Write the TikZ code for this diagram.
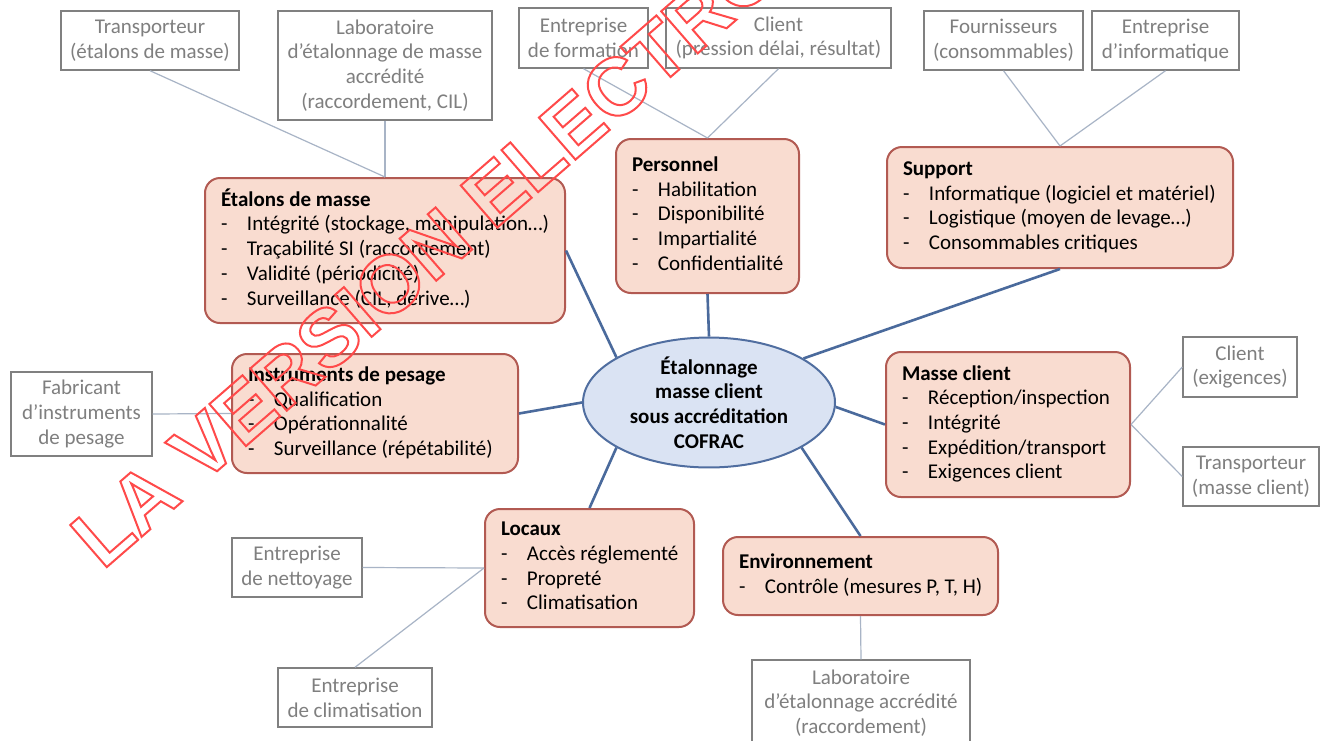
\documentclass[tikz,border=0pt]{standalone}
\usepackage{fontspec}
\setmainfont{Carlito}
\newfontfamily\wmfont{Liberation Sans}
\usetikzlibrary{shapes.geometric}
\definecolor{ofill}{HTML}{F9DCD0}
\definecolor{oborder}{HTML}{B25A52}
\definecolor{efill}{HTML}{DAE3F3}
\definecolor{eborder}{HTML}{506EA0}
\definecolor{bline}{HTML}{4A6A9C}
\definecolor{gline}{HTML}{A8B4C6}
\definecolor{gborder}{HTML}{808080}
\definecolor{gtext}{HTML}{7F7F7F}
\definecolor{wmred}{HTML}{FF4A4A}
\newcommand\dsh{\makebox[13pt][l]{-}}
\newcommand\obx[2]{\makebox[#1][l]{\begin{tabular}{@{}l@{}}#2\end{tabular}}}
\newcommand\outl[1]{\special{pdf:literal direct 1 Tr 1 w}#1\special{pdf:literal direct 0 Tr}}
\tikzset{
  obox/.style={draw=oborder, fill=ofill, line width=1pt, rounded corners=7.5pt,
    inner xsep=8pt, inner ysep=0pt, font=\fontsize{10.5}{12.35}\selectfont},
  gbox/.style={draw=gborder, line width=0.7pt, text=gtext, align=center,
    inner sep=0pt, font=\fontsize{10.5}{12.35}\selectfont},
  cbox/.style={ellipse, draw=eborder, fill=efill, line width=1pt, align=center,
    inner sep=0pt, font=\fontsize{10.5}{12.35}\selectfont\bfseries},
  bconn/.style={draw=bline, line width=1.3pt},
  gconn/.style={draw=gline, line width=0.6pt},
}
\begin{document}
\begin{tikzpicture}[x=0.5pt,y=-0.5pt]
\useasboundingbox (0,0) rectangle (1323,740);
\clip (0,0) rectangle (1323,740);
\fill[white] (0,0) rectangle (1323,740);

% centre
\node[cbox, minimum width=126pt, minimum height=59.5pt] (e) at (709,402.5)
  {Étalonnage\\masse client\\sous accréditation\\COFRAC};

% orange boxes
\node[obox, minimum height=72.5pt] (o1) at (385,250.5) {\obx{164pt}{\textbf{Étalons de masse}\\
  \dsh Intégrité (stockage, manipulation…)\\ \dsh Traçabilité SI (raccordement)\\
  \dsh Validité (périodicité)\\ \dsh Surveillance (CIL, dérive…)}};
\node[obox, minimum height=77pt] (o2) at (707.5,216) {\obx{75.5pt}{\textbf{Personnel}\\
  \dsh Habilitation\\ \dsh Disponibilité\\ \dsh Impartialité\\ \dsh Confidentialité}};
\node[obox, minimum height=60.5pt] (o3) at (1060,207.5) {\obx{157pt}{\textbf{Support}\\
  \dsh Informatique (logiciel et matériel)\\ \dsh Logistique (moyen de levage…)\\
  \dsh Consommables critiques}};
\node[obox, minimum height=59.5pt] (o4) at (375,413.5) {\obx{127pt}{\textbf{Instruments de pesage}\\
  \dsh Qualification\\ \dsh Opérationnalité\\ \dsh Surveillance (répétabilité)}};
\node[obox, minimum height=72.5pt] (o5) at (1008,424.5) {\obx{106pt}{\textbf{Masse client}\\
  \dsh Réception/inspection\\ \dsh Intégrité\\ \dsh Expédition/transport\\ \dsh Exigences client}};
\node[obox, minimum height=59pt] (o6) at (589.5,568) {\obx{88.5pt}{\textbf{Locaux}\\
  \dsh Accès réglementé\\ \dsh Propreté\\ \dsh Climatisation}};
\node[obox, minimum height=39pt] (o7) at (860.5,576) {\obx{121.5pt}{\textbf{Environnement}\\
  \dsh Contrôle (mesures P, T, H)}};

% grey boxes
\node[gbox, minimum width=89pt, minimum height=29.5pt] (g1) at (150,40.5) {Transporteur\\(étalons de masse)};
\node[gbox, minimum width=107pt, minimum height=54.5pt] (g2) at (385,65.5) {Laboratoire\\d’étalonnage de masse\\accrédité\\(raccordement, CIL)};
\node[gbox, minimum width=64.5pt, minimum height=30pt] (g3) at (583.5,38) {Entreprise\\de formation};
\node[gbox, minimum width=112.5pt, minimum height=30pt] (g4) at (778.5,38) {Client\\(pression délai, résultat)};
\node[gbox, minimum width=79.5pt, minimum height=29.5pt] (g5) at (1003.5,40.5) {Fournisseurs\\(consommables)};
\node[gbox, minimum width=73.5pt, minimum height=29.5pt] (g6) at (1165.5,40.5) {Entreprise\\d’informatique};
\node[gbox, minimum width=70.5pt, minimum height=42pt] (g7) at (81.5,414) {Fabricant\\d’instruments\\de pesage};
\node[gbox, minimum width=65pt, minimum height=29.5pt] (g8) at (297,567.5) {Entreprise\\de nettoyage};
\node[gbox, minimum width=77pt, minimum height=29.5pt] (g9) at (355,697.5) {Entreprise\\de climatisation};
\node[gbox, minimum width=109pt, minimum height=43pt] (g10) at (861,703) {Laboratoire\\d’étalonnage accrédité\\(raccordement)};
\node[gbox, minimum width=57pt, minimum height=30pt] (g11) at (1240,367) {Client\\(exigences)};
\node[gbox, minimum width=68pt, minimum height=29.5pt] (g12) at (1251,476.5) {Transporteur\\(masse client)};

% blue connectors
\draw[bconn] (o1.east) -- (e.154.5);
\draw[bconn] (o2.south) -- (e.north);
\draw[bconn] (o3.south) -- (e.25.5);
\draw[bconn] (o4.east) -- (e.west);
\draw[bconn] (o5.west) -- (e.-2);
\draw[bconn] (o6.north) -- (e.206.6);
\draw[bconn] (o7.north) -- (e.-26.6);

% grey connectors
\draw[gconn] (g1.south) -- (o1.north);
\draw[gconn] (g2.south) -- (o1.north);
\draw[gconn] (g3.south) -- (o2.north);
\draw[gconn] (g4.south) -- (o2.north);
\draw[gconn] (g5.south) -- (o3.north);
\draw[gconn] (g6.south) -- (o3.north);
\draw[gconn] (g7.east) -- (o4.west);
\draw[gconn] (g8.east) -- (o6.west);
\draw[gconn] (g9.north) -- (o6.west);
\draw[gconn] (g10.north) -- (o7.south);
\draw[gconn] (g11.west) -- (o5.east);
\draw[gconn] (g12.west) -- (o5.east);

% watermark
\node[rotate=41, anchor=base west, inner sep=0pt, text=wmred,
  font=\fontsize{40.5}{40.5}\wmfont\bfseries] (wm) at (102.4,570.9) {\outl{LA VERSION ELECTRONIQUE}};
\end{tikzpicture}
\end{document}
